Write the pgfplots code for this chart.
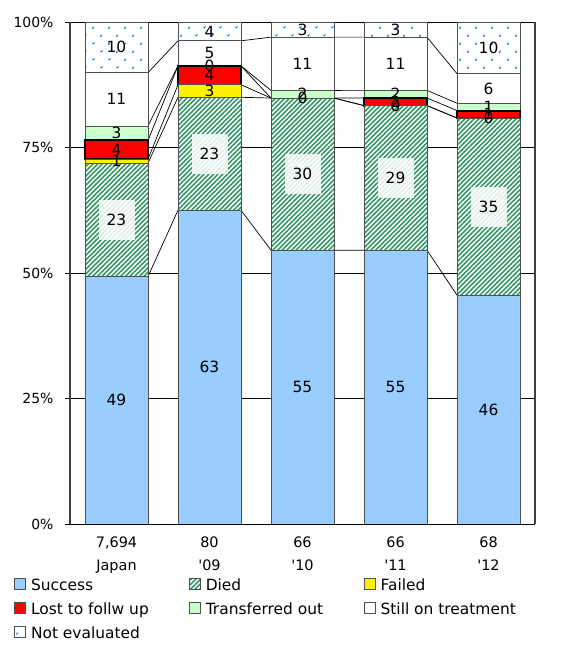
\documentclass[border=0pt]{standalone}
\usepackage{fontspec}
\setmainfont{DejaVu Sans}[Ligatures=TeXOff]
\usepackage{pgfplots}
\pgfplotsset{compat=1.18}
\usetikzlibrary{patterns.meta}
\definecolor{succ}{RGB}{153,204,255}
\definecolor{diedg}{RGB}{51,150,100}
\definecolor{trans}{RGB}{204,255,204}
\definecolor{dotb}{RGB}{0,102,214}
\definecolor{edge}{RGB}{80,80,80}
\newcommand{\lw}[1]{\makebox[158bp][l]{#1}}
\begin{document}
\begin{tikzpicture}
\useasboundingbox (0,0) rectangle (567bp,649bp);
% series lines between the bars
\begin{axis}[at={(70bp,125bp)}, anchor=south west, scale only axis,
  width=465bp, height=502bp, xmin=-0.5, xmax=4.5, ymin=0, ymax=100,
  axis lines=none, ticks=none, clip=false]
\addplot[black, line width=0.7bp, mark=none] coordinates {(0.3387,49.3)(0.6613,62.5)(1.3387,62.5)(1.6613,54.55)(2.3387,54.55)(2.6613,54.55)(3.3387,54.55)(3.6613,45.59)};
\addplot[black, line width=0.7bp, mark=none] coordinates {(0.3387,71.9)(0.6613,85)(1.3387,85)(1.6613,84.85)(2.3387,84.85)(2.6613,83.34)(3.3387,83.34)(3.6613,80.88)};
\addplot[black, line width=0.7bp, mark=none] coordinates {(0.3387,72.7)(0.6613,87.5)(1.3387,87.5)(1.6613,84.85)(2.3387,84.85)(2.6613,83.34)(3.3387,83.34)(3.6613,80.88)};
\addplot[black, line width=0.7bp, mark=none] coordinates {(0.3387,76.4)(0.6613,91.25)(1.3387,91.25)(1.6613,84.85)(2.3387,84.85)(2.6613,84.86)(3.3387,84.86)(3.6613,82.35)};
\addplot[black, line width=0.7bp, mark=none] coordinates {(0.3387,79.3)(0.6613,91.25)(1.3387,91.25)(1.6613,86.37)(2.3387,86.37)(2.6613,86.38)(3.3387,86.38)(3.6613,83.82)};
\addplot[black, line width=0.7bp, mark=none] coordinates {(0.3387,89.9)(0.6613,96.25)(1.3387,96.25)(1.6613,96.98)(2.3387,96.98)(2.6613,96.98)(3.3387,96.98)(3.6613,89.7)};
\end{axis}
% stacked bars
\begin{axis}[at={(70bp,125bp)}, anchor=south west, scale only axis,
  width=465bp, height=502bp,
  ybar stacked, bar width=63bp,
  xmin=-0.5, xmax=4.5, ymin=0, ymax=100,
  xtick={0,1,2,3,4},
  xticklabels={{7,694\\Japan},{80\\'09},{66\\'10},{66\\'11},{68\\'12}},
  x tick label style={align=center, font=\fontsize{14.5}{23}\selectfont, yshift=-4bp},
  ytick={0,25,50,75,100},
  yticklabel={\pgfmathprintnumber{\tick}\%},
  y tick label style={font=\fontsize{14}{16}\selectfont, xshift=-8bp},
  /pgf/number format/assume math mode=true,
  /pgf/number format/fixed, /pgf/number format/precision=0,
  ymajorgrids, grid style={black, line width=0.7bp},
  tick align=outside, ytick pos=left, major tick length=5bp,
  xtick style={draw=none}, ytick style={black, line width=0.7bp},
  separate axis lines,
  x axis line style={black, line width=0.8bp},
  y axis line style={draw=black!75, line width=2bp},
  axis x line*=box, axis y line*=box,
  nodes near coords,
  every node near coord/.append style={font=\fontsize{15.5}{18}\selectfont, anchor=center,
     inner sep=0pt, text=black},
  legend columns=3,
  legend cell align=left,
  legend style={at={(axis description cs:-0.1204,-0.1076)}, anchor=north west,
     draw=none, fill=none, inner sep=0pt, row sep=7bp,
     font=\fontsize{15.5}{18}\selectfont,
     nodes={inner xsep=0bp, inner ysep=1bp, text height=11bp, text depth=3bp},
     /tikz/every odd column/.append style={column sep=5bp},
     /tikz/every even column/.append style={column sep=0bp}},
  legend image code/.code={\draw[line width=0.8bp, draw=edge, #1] (0bp,-2.7bp) rectangle (11bp,8.3bp);},
]
\addplot[fill=succ, draw=edge, line width=0.8bp] coordinates {(0,49.3)(1,62.5)(2,54.55)(3,54.55)(4,45.59)};
\addlegendentry{\lw{Success}}
\addplot[fill=white, draw=edge, line width=0.8bp,
   postaction={pattern={Lines[angle=45,distance=3.3bp,line width=1.6bp]}, pattern color=diedg},
   every node near coord/.append style={fill=white, fill opacity=0.85, text opacity=1, minimum width=36bp, minimum height=40bp}]
   coordinates {(0,22.6)(1,22.5)(2,30.3)(3,28.79)(4,35.29)};
\addlegendentry{\lw{Died}}
\addplot[fill=yellow, draw=edge, line width=0.8bp] coordinates {(0,0.8)(1,2.5)(2,0.001)(3,0.001)(4,0.001)};
\addlegendentry{Failed}
\addplot[fill=red, draw=black, line width=2bp] coordinates {(0,3.7)(1,3.75)(2,0)(3,1.52)(4,1.47)};
\addlegendentry{\lw{Lost to follw up}}
\addplot[fill=trans, draw=edge, line width=0.8bp] coordinates {(0,2.9)(1,0.001)(2,1.52)(3,1.52)(4,1.47)};
\addlegendentry{\lw{Transferred out}}
\addplot[fill=white, draw=edge, line width=0.8bp] coordinates {(0,10.6)(1,5)(2,10.61)(3,10.6)(4,5.88)};
\addlegendentry{Still on treatment}
\addplot[fill=white, draw=edge, line width=0.8bp,
   postaction={pattern={Dots[angle=45,distance=11.8bp,radius=1.2bp]}, pattern color=dotb}]
   coordinates {(0,10.1)(1,3.748)(2,3.018)(3,3.018)(4,10.298)};
\addlegendentry{\lw{Not evaluated}}
\end{axis}
\end{tikzpicture}
\end{document}
